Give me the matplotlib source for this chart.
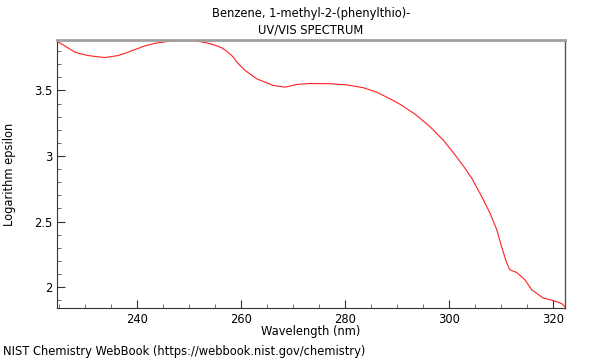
import matplotlib
matplotlib.use("Agg")
import matplotlib.pyplot as plt
from matplotlib.ticker import MultipleLocator

wavelength = [224.6, 226.3, 228.1, 230.6, 233.8, 236.3, 238.0, 239.6, 241.5, 243.5,
              245.5, 247.3, 249.8, 251.5, 253.1, 254.8, 256.3, 257.4, 258.5, 259.2,
              260.8, 263.0, 266.2, 268.5, 270.7, 273.3, 277.1, 280.3, 283.5, 286.1,
              289.0, 290.6, 293.5, 296.4, 298.9, 301.2, 303.1, 304.4, 306.3, 307.9,
              309.2, 310.1, 311.1, 311.7, 313.0, 314.6, 315.9, 318.1, 320.1, 321.7,
              322.3]
log_eps = [3.875, 3.835, 3.791, 3.766, 3.751, 3.766, 3.788, 3.812, 3.840, 3.860,
           3.872, 3.878, 3.880, 3.876, 3.866, 3.848, 3.825, 3.795, 3.755, 3.715,
           3.652, 3.589, 3.538, 3.525, 3.546, 3.553, 3.551, 3.543, 3.521, 3.487,
           3.429, 3.394, 3.318, 3.221, 3.120, 3.006, 2.905, 2.828, 2.689, 2.562,
           2.435, 2.308, 2.182, 2.131, 2.111, 2.055, 1.979, 1.916, 1.896, 1.873,
           1.848]

title1 = "Benzene, 1-methyl-2-(phenylthio)-"
title2 = "UV/VIS SPECTRUM"
xlabel = "Wavelength (nm)"
ylabel = "Logarithm epsilon"
footer = "NIST Chemistry WebBook (https://webbook.nist.gov/chemistry)"

fs = 8.3
fig = plt.figure(figsize=(6, 3.6), dpi=100)
ax = fig.add_axes([57/600, 1-308/360, (565-57)/600, (308-40)/360])
ax.plot(wavelength, log_eps, color="#ff2020", lw=0.8)
ax.set_xlim(224.6, 322.3)
ax.set_ylim(1.84, 3.885)
ax.xaxis.set_major_locator(MultipleLocator(20))
ax.xaxis.set_minor_locator(MultipleLocator(5))
ax.yaxis.set_major_locator(MultipleLocator(0.5))
ax.yaxis.set_minor_locator(MultipleLocator(0.1))
ax.yaxis.set_major_formatter(plt.FuncFormatter(lambda v, p: f"{v:g}"))
ax.tick_params(which="major", direction="in", length=6, width=0.8, labelsize=fs, color="#333333")
ax.tick_params(which="minor", direction="in", length=3, width=0.6, color="#555555")
ax.spines["top"].set_color("#a0a0a0")
ax.spines["top"].set_linewidth(2)
ax.spines["right"].set_color("#555555")
ax.spines["right"].set_linewidth(1)
ax.spines["left"].set_color("#333333")
ax.spines["bottom"].set_color("#333333")
ax.set_xlabel(xlabel, fontsize=fs)
ax.set_ylabel(ylabel, fontsize=fs)
ax.xaxis.set_label_coords(0.5 + (311 - 311) / 508, (308 - 332) / 268)
ax.yaxis.set_label_coords((10 - 57) / 508, 0.5)
ax.xaxis.label.set_va("center")
ax.yaxis.label.set_va("center")
fig.text(311/600, 1-13/360, title1, ha="center", va="center", fontsize=fs)
fig.text(311/600, 1-30/360, title2, ha="center", va="center", fontsize=fs)
fig.text(3/600, 1-352/360, footer, ha="left", va="center", fontsize=fs)
fig.savefig("out.png", dpi=100)
